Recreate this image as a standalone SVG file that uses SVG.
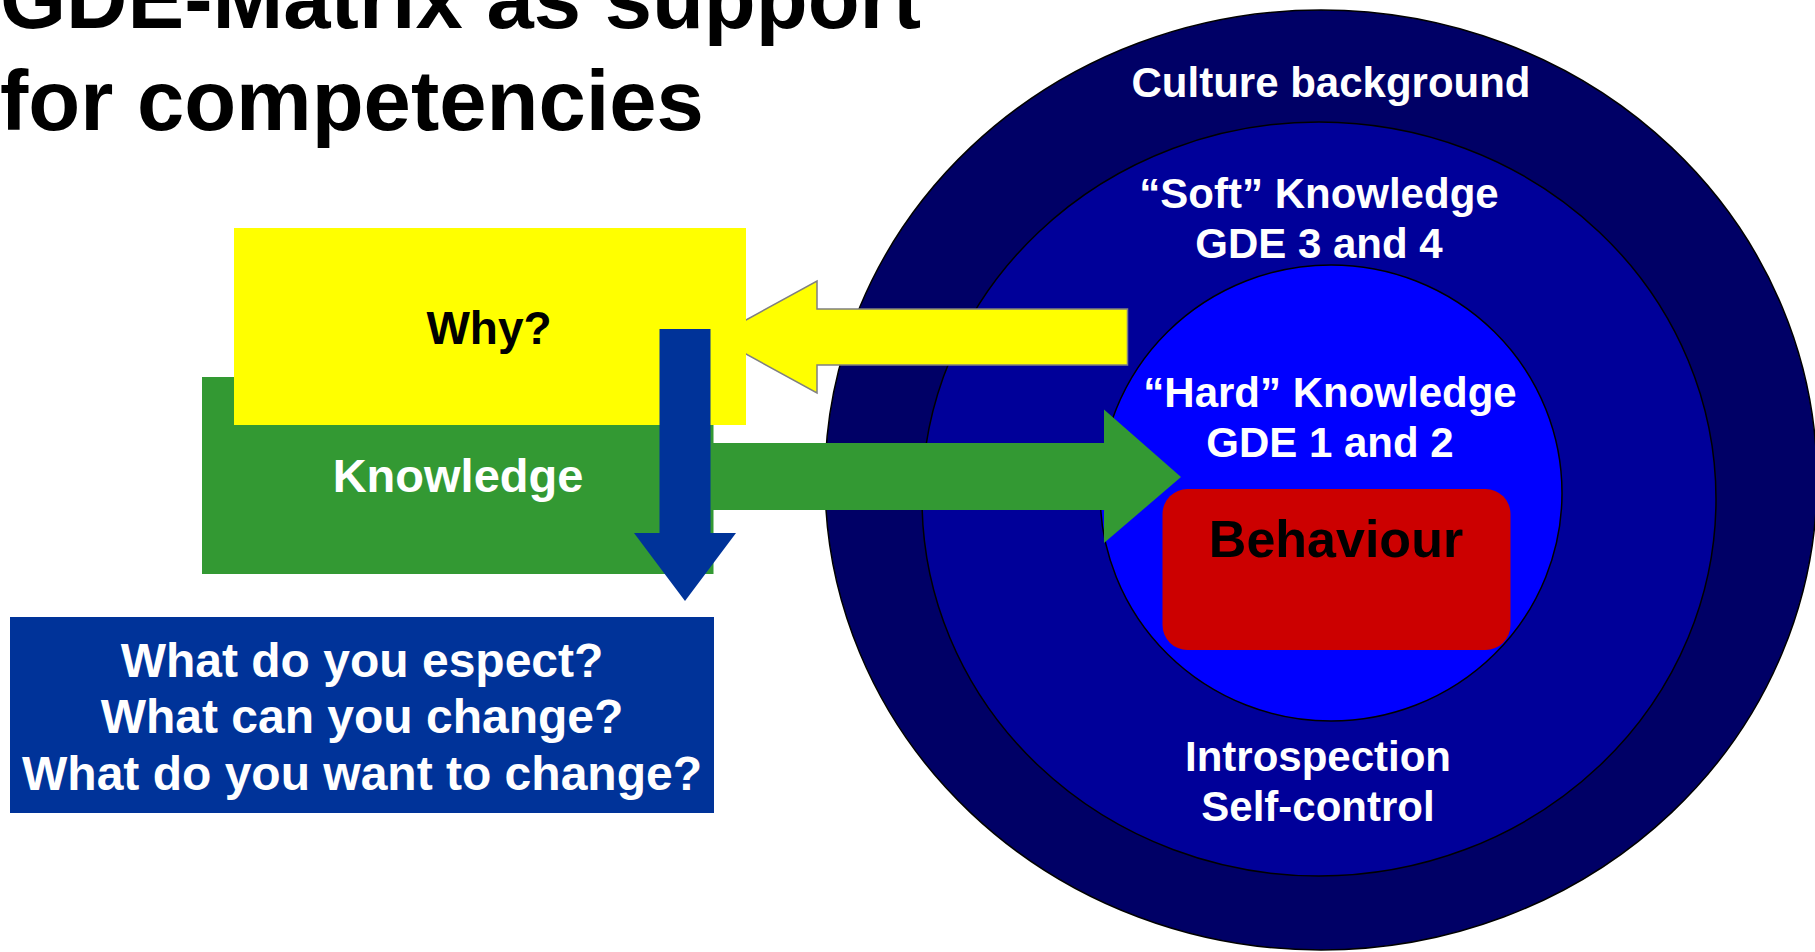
<svg xmlns="http://www.w3.org/2000/svg" width="1815" height="952" viewBox="0 0 1815 952">
<style>
text{font-family:"Liberation Sans",Arial,sans-serif;font-weight:bold;}
.w{fill:#FFFFFF;font-size:42px;text-anchor:middle;}
.ring{stroke:#000000;stroke-width:1.5;}
</style>
<rect width="1815" height="952" fill="#FFFFFF"/>
<g id="title">
<text x="0" y="28" font-size="85" fill="#000000">GDE-Matrix as support</text>
<text x="0" y="130" font-size="85" fill="#000000">for competencies</text>
</g>
<g id="culture">
<ellipse class="ring" cx="1321" cy="480" rx="496" ry="470" fill="#000066"/>
<text class="w" x="1331" y="97">Culture background</text>
</g>
<g id="soft">
<ellipse class="ring" cx="1319" cy="499" rx="397" ry="377" fill="#000099"/>
<text class="w" x="1319" y="208">“Soft” Knowledge</text>
<text class="w" x="1319" y="258">GDE 3 and 4</text>
<text class="w" x="1318" y="771">Introspection</text>
<text class="w" x="1318" y="821">Self-control</text>
</g>
<g id="hard">
<ellipse class="ring" cx="1331" cy="493" rx="231" ry="228" fill="#0000FF"/>
<text class="w" x="1330" y="407">“Hard” Knowledge</text>
<text class="w" x="1330" y="457">GDE 1 and 2</text>
</g>
<g id="behaviour">
<rect x="1162.5" y="489" width="348" height="161" rx="25" ry="25" fill="#CC0000"/>
<text x="1336" y="557" font-size="52" fill="#000000" text-anchor="middle">Behaviour</text>
</g>
<g id="knowledge">
<rect x="202" y="377" width="511.5" height="197" fill="#339933"/>
<text x="458" y="492" font-size="47" fill="#FFFFFF" text-anchor="middle">Knowledge</text>
</g>
<g id="connectors">
<polygon id="arrow-yellow" points="715,337 817,281 817,309 1127.5,309 1127.5,365 817,365 817,393" fill="#FFFF00" stroke="#808080" stroke-width="1.5"/>
<polygon id="arrow-green" points="700,443 1104,443 1104,409.5 1181,477 1104,543 1104,510 700,510" fill="#339933"/>
</g>
<g id="why">
<rect x="234" y="228" width="512" height="197" fill="#FFFF00"/>
<text x="489" y="344" font-size="46" fill="#000000" text-anchor="middle">Why?</text>
</g>
<g id="arrow-down">
<polygon points="659.5,329 710.5,329 710.5,533 736,533 685,601 634,533 659.5,533" fill="#003399"/>
</g>
<g id="questions">
<rect x="10" y="617" width="704" height="196" fill="#003399"/>
<text x="362" y="677" font-size="48" fill="#FFFFFF" text-anchor="middle">What do you espect?</text>
<text x="362" y="733" font-size="48" fill="#FFFFFF" text-anchor="middle">What can you change?</text>
<text x="362" y="790" font-size="48" fill="#FFFFFF" text-anchor="middle">What do you want to change?</text>
</g>
</svg>
